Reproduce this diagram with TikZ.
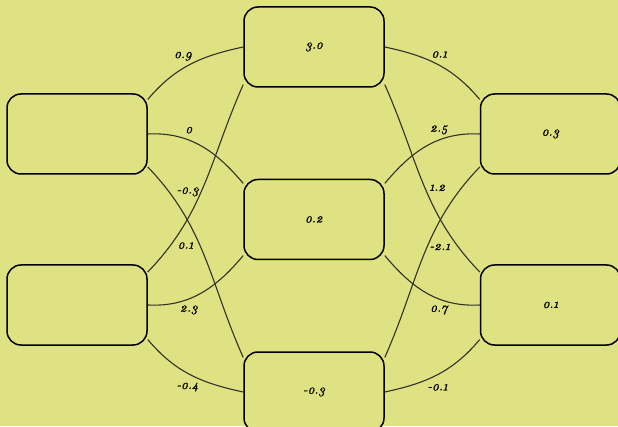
\documentclass[tikz,border=0pt]{standalone}
\usepackage{fontspec}
\usepackage{tikz}
\usetikzlibrary{positioning}
\newfontfamily\wfont[Numbers=OldStyle, FakeBold=1.2]{lmroman10-italic.otf}
\definecolor{bgyellow}{RGB}{222,226,130}
\definecolor{wiregray}{RGB}{50,50,38}

\begin{document}
\begin{tikzpicture}[
    x=1pt, y=1pt,
    unit/.style={draw=black, line width=1.5pt, rounded corners=14pt,
                 minimum width=140pt, minimum height=80pt, fill=bgyellow,
                 font=\fontsize{13}{15}\wfont},
    wire/.style={draw=wiregray, line width=1.1pt},
    wlbl/.style={font=\fontsize{13}{15}\wfont, inner sep=2pt},
    node distance=91pt
]
\useasboundingbox[fill=bgyellow] (0,0) rectangle (618,426);

% hidden layer
\node[unit] (hid2) at (314,206.5) {0.2};
\node[unit, above=of hid2] (hid1) {3.0};
\node[unit, below=of hid2] (hid3) {-0.3};

% inputs and outputs
\node[unit] (in1) at (77,292) {};
\node[unit] (in2) at (77,121) {};
\node[unit] (out1) at (550.5,292) {0.3};
\node[unit] (out2) at (550.5,121) {0.1};

% input -> hidden
\draw[wire] (in1.26) to[out=50,in=192] node[wlbl, pos=0.42, above=5pt] {0.9} (hid1.west);
\draw[wire] (in1.east) to[out=3,in=130] node[wlbl, pos=0.37, above=4pt] {0} (hid2.153);
\draw[wire] (in1.-25) to[out=-46,in=114] node[wlbl, pos=0.14, right=5pt] {-0.3} (hid3.154);
\draw[wire] (in2.25) to[out=46,in=246] node[wlbl, pos=0.15, right=5pt] {0.1} (hid1.208);
\draw[wire] (in2.east) to[out=-3,in=230] node[wlbl, pos=0.37, below=4pt] {2.3} (hid2.207);
\draw[wire] (in2.-26) to[out=-50,in=168] node[wlbl, pos=0.47, below=7pt] {-0.4} (hid3.west);

% hidden -> output
\draw[wire] (hid1.east) to[out=-12,in=130] node[wlbl, pos=0.52, above=5pt] {0.1} (out1.154);
\draw[wire] (hid1.-28) to[out=-66,in=134] node[wlbl, pos=0.52, right=2pt] {1.2} (out2.155);
\draw[wire] (hid2.27) to[out=50,in=177] node[wlbl, pos=0.63, above=3pt] {2.5} (out1.west);
\draw[wire] (hid2.-27) to[out=-50,in=183] node[wlbl, pos=0.63, below=4pt] {0.7} (out2.west);
\draw[wire] (hid3.26) to[out=66,in=226] node[wlbl, pos=0.55, right=0pt] {-2.1} (out1.205);
\draw[wire] (hid3.east) to[out=12,in=230] node[wlbl, pos=0.5, below=7pt] {-0.1} (out2.206);
\end{tikzpicture}
\end{document}
